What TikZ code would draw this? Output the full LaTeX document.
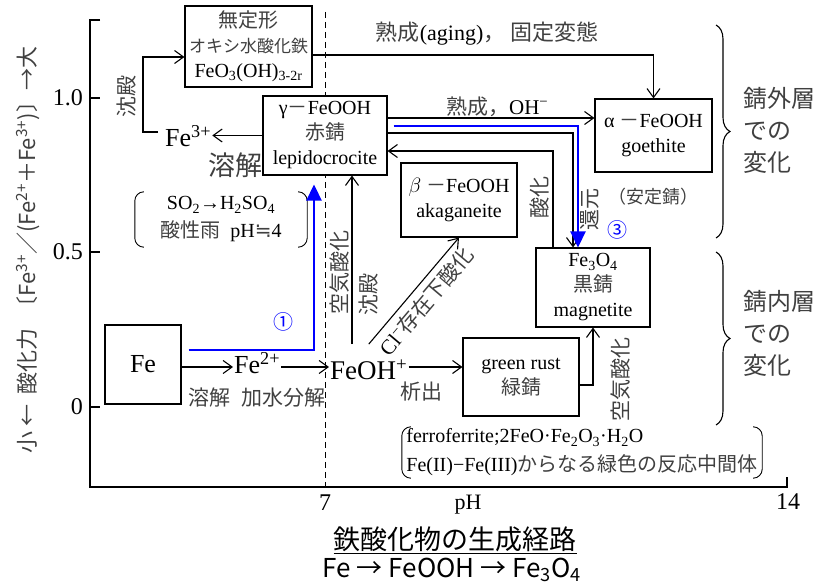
\documentclass[tikz,border=0pt]{standalone}
\usepackage{fontspec}
\setmainfont{Liberation Serif}
\newfontfamily\jp[Color=404040]{Noto Sans CJK JP}
\newfontfamily\jpb{Noto Sans CJK JP}
\newfontfamily\djv{DejaVu Sans}
\usetikzlibrary{arrows.meta,decorations.pathreplacing,positioning}
\newcommand\sz[2]{\fontsize{#1}{#2}\selectfont}
\tikzset{
  rbox/.style = {draw, fill=white, line width=1.1pt, align=center,
                 inner sep=0pt, font=\sz{20}{25}},
  lbl/.style  = {inner sep=1pt, font=\sz{21}{24}},
  jlbl/.style = {inner sep=1pt, font=\jp\sz{21}{24}},
  vlbl/.style = {jlbl, rotate=90},
  arr/.style  = {-{Straight Barb[length=9pt,width=13pt]}, line width=1.1pt},
  blu/.style  = {-{Triangle[length=16pt,width=15pt]}, line width=2.6pt, draw=blue},
  axisl/.style= {line width=1.1pt},
  brc/.style  = {decorate, decoration={brace,amplitude=14pt}, line width=1.1pt},
  pbr/.style  = {line width=0.9pt, rounded corners=9pt}
}

\begin{document}
\begin{tikzpicture}[x=1pt,y=1pt]
\useasboundingbox (0,0) rectangle (823,587);
\draw[axisl] (100,567) -- (90,567) -- (90,100) -- (787,100) -- (787,110);
\foreach \yy/\tl [count=\i] in {489/1.0,335/0.5,180/0}{
  \draw[axisl] (90,\yy) -- (100,\yy);
  \node[lbl, left, font=\sz{24}{26}] (tick\i) at (84,\yy) {\tl};
}
\draw[line width=1pt, dash pattern=on 6pt off 4pt] (325,575) -- (325,100);
\node[lbl, font=\sz{24}{26}] (ph7)  at (325,84) {7};
\node[lbl, font=\sz{24}{26}] (ph14) at (788,85) {14};
\node[lbl, font=\sz{22}{24}] (phl)  at (468,82) {pH};
\node[lbl, rotate=90, font=\jp\sz{22}{24}] (ylab) at (28,337)
      {小\ ←\ \ 酸化力\ \ 〔Fe\textsuperscript{3+}／(Fe\textsuperscript{2+}＋Fe\textsuperscript{3+})〕→大};

\node[rbox, minimum width=127pt, minimum height=81pt] (amorph) at (248.5,540.5)
      {{\jp 無定形}\\{\jp\sz{17}{20}オキシ水酸化鉄}\\FeO\textsubscript{3}(OH)\textsubscript{3-2r}};
\node[rbox, minimum width=124pt, minimum height=79pt] (gamma) at (325,451.5)
      {γ{\jp －}FeOOH\\{\jp 赤錆}\\lepidocrocite};
\node[rbox, minimum width=117pt, minimum height=73pt] (alpha) at (653.5,451.5)
      {α {\jp －}FeOOH\\goethite};
\node[rbox, minimum width=116pt, minimum height=74pt] (beta) at (459,387)
      {$\beta$ {\jp －}FeOOH\\akaganeite};
\node[rbox, minimum width=114pt, minimum height=79pt] (magnet) at (593,299.5)
      {Fe\textsubscript{3}O\textsubscript{4}\\{\jp 黒錆}\\magnetite};
\node[rbox, minimum width=116pt, minimum height=78pt] (green) at (521,210)
      {green rust\\{\jp 緑錆}};
\node[rbox, minimum width=76pt, minimum height=79pt, font=\sz{26}{28}] (fe) at (143,222.5) {Fe};

\node[lbl, anchor=base west, font=\sz{26}{28}] (fe3)  at (164,440) {Fe\textsuperscript{3+}};
\node[lbl, anchor=base west, font=\sz{26}{28}] (fe2)  at (233,213) {Fe\textsuperscript{2+}};
\node[lbl, anchor=base west, font=\sz{27}{28}] (feoh) at (329,207) {FeOH\textsuperscript{+}};
\coordinate (row) at (0,220);

\node[jlbl, font=\jp\sz{27}{30}] (dis1) at (235,422) {溶解};
\node[vlbl] (prec1) at (127,490) {沈殿};
\node[jlbl] (dis2)  at (209,189) {溶解};
\node[jlbl] (hydro) at (283,189) {加水分解};
\node[jlbl] (depo)  at (421,195) {析出};
\node[vlbl] (airox1) at (340,314) {空気酸化};
\node[vlbl] (prec2)  at (369,292) {沈殿};
\node[vlbl] (oxi)    at (539,389) {酸化};
\node[vlbl] (redu)   at (590,377) {還元};
\node[jlbl, font=\jp\sz{18}{20}] (stable) at (653,390) {（安定錆）};
\node[vlbl] (airox2) at (621,207) {空気酸化};
\node[lbl, text=blue, font=\jpb\sz{20}{22}] (n3) at (617,357) {③};
\node[lbl, text=blue, font=\jpb\sz{20}{22}] (n1) at (283,265) {①};

\node[lbl, align=center, font=\sz{20}{28}, minimum width=172pt, minimum height=55pt] (acid) at (221,367.5)
      {SO\textsubscript{2}→H\textsubscript{2}SO\textsubscript{4}\\{\jp 酸性雨}\ \ pH{\djv\color[HTML]{404040}≒}4};
\draw[pbr] ([xshift=8pt]acid.north west) -- (acid.north west) -- (acid.south west) -- ([xshift=8pt]acid.south west);
\draw[pbr] ([xshift=-8pt]acid.north east) -- (acid.north east) -- (acid.south east) -- ([xshift=-8pt]acid.south east);
\node[lbl, align=left, font=\sz{20}{29}, minimum width=360pt, minimum height=51pt] (ferro) at (582,134.5)
      {ferroferrite;2FeO·Fe\textsubscript{2}O\textsubscript{3}·H\textsubscript{2}O\\Fe(II)−Fe(III){\jp からなる緑色の反応中間体}};
\draw[pbr] ([xshift=8pt]ferro.north west) -- (ferro.north west) -- (ferro.south west) -- ([xshift=8pt]ferro.south west);
\draw[pbr] ([xshift=-8pt]ferro.north east) -- (ferro.north east) -- (ferro.south east) -- ([xshift=-8pt]ferro.south east);

\draw[brc] (716,562) -- (716,349);
\draw[brc] (716,335) -- (716,162);
\node[jlbl, align=left, anchor=west, font=\jp\sz{24}{32}] (outer) at (742,457) {錆外層\\での\\変化};
\node[jlbl, align=left, anchor=west, font=\jp\sz{24}{32}] (inner) at (742,253.5) {錆内層\\での\\変化};

\draw[arr] ([yshift=-8.5pt]amorph.east) -| node[pos=0.256, above=8pt, lbl, font=\sz{22}{24}]
      {{\jp 熟成}(aging){\jp ，\ 固定変態}} (alpha.north);
\draw[arr] ([yshift=17.5pt]gamma.east) -- node[pos=0.53, above=0pt, lbl]
      {{\jp 熟成，}OH\textsuperscript{−}} ([yshift=17.5pt]alpha.west);
\draw[arr] ([yshift=2.5pt]gamma.east) -| ([xshift=-20pt]magnet.north);
\draw[arr] ([xshift=-40pt]magnet.north) |- ([yshift=-15.5pt]gamma.east);
\draw[arr] (gamma.west) -- (gamma.west -| fe3.east);
\draw[arr] ([xshift=-6pt,yshift=15pt]fe3.base west) -- ++(-15,0) |- ([yshift=-10.5pt]amorph.west);
\draw[arr] (fe.east |- row) -- (fe2.west |- row);
\draw[arr] (fe2.east |- row) -- (feoh.west |- row);
\draw[arr] (feoh.east |- row) -- (green.west |- row);
\coordinate (up) at ([xshift=27pt]gamma.south);
\coordinate (feohtop) at ([yshift=15pt]feoh.north);
\draw[arr] (up |- feohtop) -- (up);
\draw[arr] (feohtop) -- node[pos=0.5, sloped, below, lbl, inner sep=6pt, font=\sz{21}{24}]
      {Cl\textsuperscript{−}{\jp 存在下酸化}} (beta.south);
\draw[arr] ([yshift=-8pt]green.east) -| (magnet.south);

\draw[blu] ([xshift=6pt,yshift=9.5pt]gamma.east) -| ([xshift=-15pt]magnet.north);
\draw[blu] ([xshift=7pt,yshift=14.5pt]fe.east) -| ([xshift=-11pt,yshift=-9pt]gamma.south);

\node[font=\jpb\sz{27}{30}] (title) at (455,47) {\underline{鉄酸化物の生成経路}};
\node[font=\jpb\sz{26}{28}] (sub) at (452,17) {Fe → FeOOH → Fe\textsubscript{3}O\textsubscript{4}};
\end{tikzpicture}
\end{document}
